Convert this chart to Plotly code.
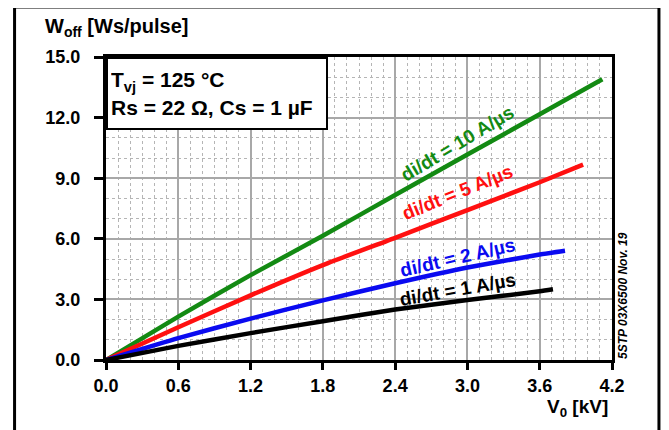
import plotly.graph_objects as go

# ---- data ----
v_green = [0, 0.6, 1.2, 1.8, 2.4, 3.0, 3.6, 4.12]
w_green = [0, 2.15, 4.2, 6.15, 8.17, 10.17, 12.17, 13.9]

v_red = [0, 0.6, 1.2, 1.8, 2.4, 3.0, 3.6, 3.96]
w_red = [0, 1.62, 3.2, 4.7, 6.05, 7.42, 8.8, 9.67]

v_blue = [0, 0.6, 1.2, 1.8, 2.4, 3.0, 3.6, 3.81]
w_blue = [0, 1.08, 2.05, 2.95, 3.8, 4.58, 5.22, 5.41]

v_black = [0, 0.6, 1.2, 1.8, 2.4, 3.0, 3.6, 3.71]
w_black = [0, 0.7, 1.33, 1.92, 2.5, 2.97, 3.4, 3.5]

series_names = ["di/dt = 10 A/µs", "di/dt = 5 A/µs", "di/dt = 2 A/µs", "di/dt = 1 A/µs"]
series_colors = ["#138a13", "#ff1010", "#0a0af0", "#000000"]
label_x = [2.915, 2.915, 2.92, 2.915]
label_y = [10.74, 8.27, 5.05, 3.47]
label_angle = [-31, -22, -13, -10]

x_ticks = [0.0, 0.6, 1.2, 1.8, 2.4, 3.0, 3.6, 4.2]
y_ticks = [0.0, 3.0, 6.0, 9.0, 12.0, 15.0]

FONT = "Liberation Sans, Arial, sans-serif"

fig = go.Figure()
for vx, wy, col in zip([v_green, v_red, v_blue, v_black],
                       [w_green, w_red, w_blue, w_black], series_colors):
    fig.add_trace(go.Scatter(x=vx, y=wy, mode="lines",
                             line=dict(color=col, width=4.5, shape="spline", smoothing=0.5),
                             showlegend=False, hoverinfo="skip"))

for name, col, lx, ly, ang in zip(series_names, series_colors, label_x, label_y, label_angle):
    fig.add_annotation(x=lx, y=ly, xref="x", yref="y", text="<b>%s</b>" % name,
                       showarrow=False, textangle=ang,
                       font=dict(family=FONT, size=19, color=col))

axis_common = dict(
    showline=True, linecolor="black", linewidth=3, mirror=True,
    ticks="outside", tickwidth=3, tickcolor="black",
    showgrid=True, gridcolor="#a8a8a8", gridwidth=2,
    zeroline=False, tickformat=".1f",
    tickfont=dict(family=FONT, size=18, color="black", weight="bold"),
)

fig.update_xaxes(range=[0, 4.2], tickmode="array", tickvals=x_ticks, ticklen=7,
                 minor=dict(dtick=0.1, showgrid=True, gridcolor="#b5b5b5",
                            griddash="dot", gridwidth=1, ticks=""),
                 **axis_common)
fig.update_yaxes(range=[0, 15], tickmode="array", tickvals=y_ticks, ticklen=9,
                 ticklabelstandoff=10,
                 minor=dict(dtick=1, showgrid=True, gridcolor="#b5b5b5",
                            griddash="dot", gridwidth=1, ticks=""),
                 **axis_common)

# conditions box
fig.add_annotation(xref="paper", yref="paper", x=0, y=1, xanchor="left", yanchor="top",
                   text="<b>T<sub>vj</sub> = 125 °C<br>Rs = 22 Ω, Cs = 1 µF</b>",
                   showarrow=False, align="left", bgcolor="white",
                   bordercolor="black", borderwidth=2, borderpad=3,
                   width=212, height=63,
                   font=dict(family=FONT, size=21, color="black"))

# y title
fig.add_annotation(xref="paper", yref="paper", x=-0.125, y=1.096, xanchor="left", yanchor="middle",
                   text="<b>W<sub>off</sub> [Ws/pulse]</b>", showarrow=False,
                   font=dict(family=FONT, size=20, color="black"))
# x title
fig.add_annotation(xref="paper", yref="paper", x=0.997, y=-0.158, xanchor="right", yanchor="middle",
                   text="<b>V<sub>0</sub> [kV]</b>", showarrow=False,
                   font=dict(family=FONT, size=19, color="black"))
# side code
fig.add_annotation(xref="paper", yref="paper", x=1.022, y=0.212, xanchor="center", yanchor="middle",
                   text="<b><i>5STP 03X6500 Nov. 19</i></b>", showarrow=False, textangle=-90,
                   font=dict(family=FONT, size=12, color="black"))

# outer frame
fig.add_shape(type="rect", xref="paper", yref="paper",
              x0=-0.1807, x1=1.0928, y0=-0.26, y1=1.165,
              line=dict(color="black", width=3), fillcolor="rgba(0,0,0,0)", layer="above")

# page body has an 8px margin, so the figure is shrunk and shifted to compensate
fig.update_layout(width=661, height=422,
                  margin=dict(l=97.5, r=57, t=49, b=70),
                  paper_bgcolor="white", plot_bgcolor="white",
                  font=dict(family=FONT))

fig.write_html("out.html")
